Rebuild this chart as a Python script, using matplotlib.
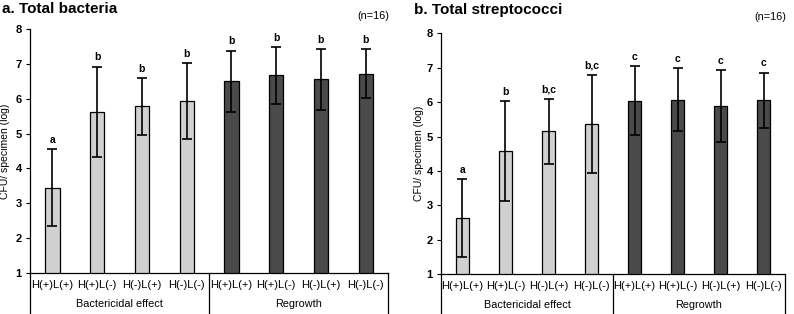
import numpy as np
import matplotlib
matplotlib.use("Agg")
from matplotlib import pyplot as plt

plt.rcParams['font.family'] = ['Liberation Sans', 'DejaVu Sans']

conditions = ['H(+)L(+)', 'H(+)L(-)', 'H(-)L(+)', 'H(-)L(-)',
              'H(+)L(+)', 'H(+)L(-)', 'H(-)L(+)', 'H(-)L(-)']
groups = ['Bactericidal effect', 'Regrowth']

bact_mean = [3.45, 5.62, 5.78, 5.93, 6.50, 6.67, 6.56, 6.72]
bact_sd = [1.11, 1.30, 0.82, 1.09, 0.88, 0.81, 0.87, 0.71]
bact_sig = ['a', 'b', 'b', 'b', 'b', 'b', 'b', 'b']

strep_mean = [2.63, 4.58, 5.15, 5.37, 6.04, 6.07, 5.88, 6.06]
strep_sd = [1.13, 1.45, 0.95, 1.42, 1.00, 0.91, 1.05, 0.80]
strep_sig = ['a', 'b', 'b,c', 'b,c', 'c', 'c', 'c', 'c']

light = '#d0d0d0'
dark = '#4a4a4a'
colors = [light] * 4 + [dark] * 4

fig = plt.figure(figsize=(7.94, 3.14), dpi=100)


def panel(rect, means, sds, sigs, title, title_xy, n_xy, lpad, gy):
    ax = fig.add_axes(rect)
    x = np.arange(len(means))
    ax.bar(x, means, width=0.32, bottom=0, color=colors, edgecolor='black', linewidth=0.9, zorder=2)
    ax.errorbar(x, means, yerr=sds, fmt='none', ecolor='black', elinewidth=1.2,
                capsize=3.3, capthick=1.2, zorder=3)
    for xi, m, s, t in zip(x, means, sds, sigs):
        ax.text(xi, m + s + 0.12, t, ha='center', va='bottom', fontsize=7.5, fontweight='bold')
    ax.set_xlim(-0.5, 7.5)
    ax.set_ylim(1, 8)
    ax.set_yticks(range(1, 9))
    for lab in ax.get_yticklabels():
        lab.set_fontweight('bold')
    ax.tick_params(axis='y', labelsize=8, length=3, width=0.8, direction='out', pad=3)
    ax.set_xticks(x)
    ax.set_xticklabels(conditions, fontsize=8)
    ax.tick_params(axis='x', length=0, pad=5)
    ax.spines['top'].set_visible(False)
    ax.spines['right'].set_visible(False)
    ax.spines['left'].set_linewidth(0.9)
    ax.spines['bottom'].set_linewidth(0.9)
    ax.set_ylabel('CFU/ specimen (log)', fontsize=7.5, labelpad=lpad)
    trans = ax.get_xaxis_transform()
    for xs in [-0.5, 3.5, 7.5]:
        ax.plot([xs, xs], [0, -0.2], transform=trans, color='black', lw=0.9, clip_on=False)
    ax.text(1.5, gy, groups[0], transform=trans, ha='center', va='center', fontsize=7.8)
    ax.text(5.5, gy, groups[1], transform=trans, ha='center', va='center', fontsize=7.8)
    fig.text(title_xy[0], title_xy[1], title, fontsize=11, fontweight='bold', ha='left', va='center')
    fig.text(n_xy[0], n_xy[1], '(n=16)', fontsize=7.8, ha='right', va='center')
    return ax


panel([0.0378, 0.130, 0.451, 0.778], bact_mean, bact_sd, bact_sig,
      'a. Total bacteria', (0.003, 0.972), (0.49, 0.95), 4, -0.127)
panel([0.5554, 0.127, 0.4333, 0.767], strep_mean, strep_sd, strep_sig,
      'b. Total streptococci', (0.521, 0.968), (0.99, 0.945), 2, -0.128)

fig.savefig('out.png', dpi=100)
